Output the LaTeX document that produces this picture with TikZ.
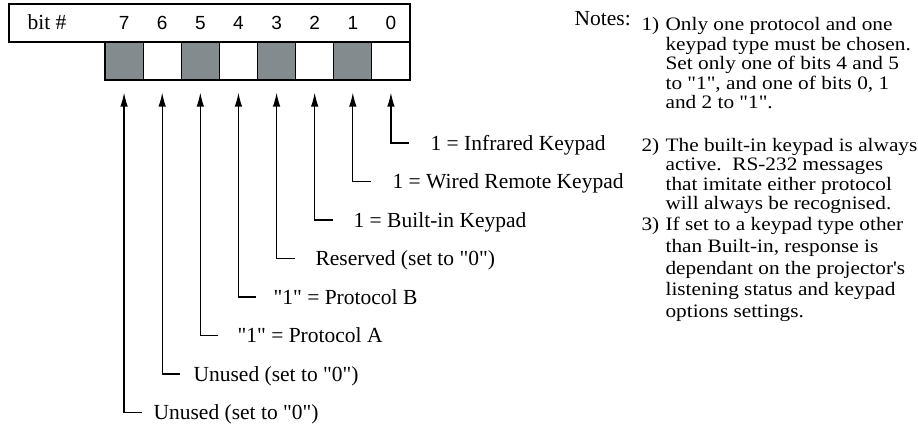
\documentclass[tikz,border=0pt]{standalone}
\usepackage{fontspec}
\setmainfont{Liberation Serif}[Ligatures=TeXOff]
\newfontfamily\notesfont{Liberation Serif}[Ligatures=TeXOff,FakeStretch=1.12]
\newfontfamily\digitfont{Liberation Sans}
\usetikzlibrary{arrows.meta}
\definecolor{cellgray}{RGB}{131,139,143}
\begin{document}
\begin{tikzpicture}[x=1pt,y=-1pt,line width=1.2pt,
  lbl/.style={anchor=base west,inner sep=0pt,font=\fontsize{21.5}{24}\selectfont},
  note/.style={anchor=base west,inner sep=0pt,font=\notesfont\fontsize{19}{21}\selectfont},
  digit/.style={anchor=base,inner sep=0pt,font=\digitfont\fontsize{19}{21}\selectfont},
  cell/.style={draw,minimum width=38.125pt,minimum height=38pt,inner sep=0pt},
  graycell/.style={cell,fill=cellgray},
  arr/.style={-{Latex[length=14pt,width=7.5pt]}}]
\useasboundingbox (0,0) rectangle (918,425);
% header
\node[draw,minimum width=401pt,minimum height=38pt,inner sep=0pt] (hdr) at (209.5,23) {};
\node[lbl] (bitlbl) at (27,30) {bit \#};
% cells and digits
\foreach \i in {0,...,7}{
  \pgfmathtruncatemacro{\k}{7-\i}
  \pgfmathsetmacro{\cx}{105+38.125*(\i+0.5)}
  \ifodd\i
    \node[cell] (c\k) at (\cx,61) {};
  \else
    \node[graycell] (c\k) at (\cx,61) {};
  \fi
  \node[digit] (d\k) at (\cx,30) {\k};
}
% labels and connectors
\foreach \k/\yl/\lx/\txt in {
  0/143/430/{1 = Infrared Keypad},
  1/181.5/392/{1 = Wired Remote Keypad},
  2/220/353/{1 = Built-in Keypad},
  3/258.5/315/{Reserved (set to "0")},
  4/297/273/{"1" = Protocol B},
  5/335.5/237/{"1" = Protocol A},
  6/374/193/{Unused (set to "0")},
  7/412.5/153/{Unused (set to "0")}}{
  \node[lbl] (l\k) at (\lx,\yl+7) {\txt};
  \path (c\k.south) ++(18pt,0) coordinate (tmp\k);
  \coordinate (h\k) at (tmp\k |- 0,\yl);
  \draw[arr] (h\k) -| ([yshift=-12pt]c\k.south);
}
% notes
\node[lbl] (notes) at (574,26) {Notes:};
\node[note] (n1) at (641,31) {1)};
\node[note] (n2) at (641,152) {2)};
\node[note] (n3) at (641,230) {3)};
\foreach \y/\t [count=\j] in {
  31/{Only one protocol and one},
  50.5/{keypad type must be chosen.},
  70/{Set only one of bits 4 and 5},
  89.5/{to "1", and one of bits 0, 1},
  109/{and 2 to "1".},
  152/{The built-in keypad is always},
  171/{active.\ \ RS-232 messages},
  190/{that imitate either protocol},
  209/{will always be recognised.},
  230/{If set to a keypad type other},
  252/{than Built-in, response is},
  274/{dependant on the projector's},
  295/{listening status and keypad},
  317/{options settings.}}{
  \node[note] (t\j) at (665,\y) {\t};
}
\end{tikzpicture}
\end{document}
